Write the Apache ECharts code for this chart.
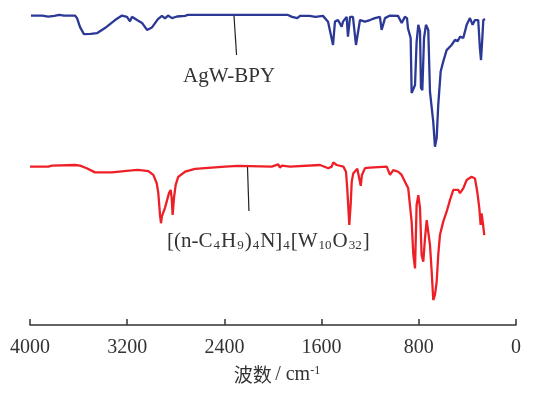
<!DOCTYPE html>
<html>
<head>
<meta charset="utf-8">
<script src="https://cdn.jsdelivr.net/npm/echarts@6/dist/echarts.min.js"></script>
<style>
  html, body { margin: 0; padding: 0; background: #fff; }
  #chart { width: 542px; height: 397px; }
</style>
</head>
<body>
<div id="chart"></div>
<script>
// x ticks (wavenumber, cm-1), axis runs 4000 -> 0
const xTicks = [4000, 3200, 2400, 1600, 800, 0];

// AgW-BPY spectrum (upper trace), wavenumber / relative transmittance
const agwWn = [3992, 3900, 3850, 3800, 3760, 3720, 3630, 3613, 3588, 3556, 3547, 3500, 3449, 3383, 3300, 3243, 3202, 3177, 3161, 3119,
  3078, 3037, 2996, 2947, 2914, 2889, 2864, 2831, 2790, 2724, 2700, 2543, 2530, 2515, 1877, 1844, 1800, 1778, 1700, 1650,
  1589, 1547, 1520, 1506, 1490, 1465, 1435, 1424, 1394, 1383, 1366, 1342, 1317, 1284, 1243, 1202, 1161, 1120, 1106, 1078,
  1037, 971, 941, 914, 897, 889, 867, 859, 848, 831, 818, 804, 790, 782, 771, 757, 741, 722, 708, 681,
  667, 653, 640, 620, 599, 571, 530, 502, 480, 461, 434, 406, 379, 357, 338, 311, 297, 288, 277, 269, 255];
const agwT = [96.7, 96.7, 96.4, 96.6, 96.9, 96.7, 96.7, 95.9, 93.1, 90.9, 91.2, 91.0, 91.2, 92.8, 95.3, 96.7, 96.3, 94.9, 96.3, 95.3,
  94.4, 92.2, 93.0, 95.6, 96.6, 95.8, 96.7, 95.9, 96.4, 96.6, 96.9, 96.9, 96.3, 96.9, 96.9, 96.3, 95.9, 96.6, 96.6, 96.3,
  96.6, 94.8, 90.0, 87.5, 94.8, 95.3, 93.2, 94.8, 96.3, 90.1, 96.3, 96.3, 87.5, 95.3, 94.8, 95.3, 95.9, 96.3, 92.2, 95.9,
  96.7, 96.6, 94.4, 96.3, 95.9, 92.7, 89.7, 72.5, 71.9, 75.0, 88.5, 93.8, 91.7, 74.1, 73.4, 89.7, 93.8, 92.2, 72.9, 63.5,
  55.7, 58.4, 68.8, 79.2, 82.3, 85.9, 87.5, 89.1, 88.7, 90.1, 89.7, 93.8, 95.9, 93.8, 95.3, 95.3, 86.5, 82.8, 89.7, 95.3, 95.6];

// [(n-C4H9)4N]4[W10O32] spectrum (lower trace)
const tbaWn = [4000, 3849, 3819, 3630, 3588, 3533, 3465, 3328, 3317, 3163, 3111, 3026, 2985, 2957, 2944, 2930, 2922, 2914, 2903, 2889,
  2856, 2842, 2834, 2826, 2815, 2801, 2780, 2724, 2642, 2505, 2395, 2286, 2011, 1957, 1943, 1926, 1860, 1613, 1545, 1517,
  1504, 1476, 1421, 1399, 1389, 1372, 1361, 1352, 1339, 1306, 1290, 1278, 1268, 1243, 1202, 1064, 1037, 1010, 969, 941,
  914, 887, 873, 859, 845, 831, 818, 804, 790, 777, 763, 749, 735, 722, 708, 694, 681, 667, 653, 640,
  626, 599, 571, 543, 516, 475, 461, 434, 406, 365, 338, 319, 302, 291, 283, 269, 261];
const tbaT = [49.5, 49.5, 49.8, 50.0, 49.8, 49.0, 47.7, 47.7, 48.1, 48.3, 48.5, 48.1, 46.9, 44.3, 41.2, 34.4, 31.8, 34.0, 33.4, 36.6,
  41.2, 42.2, 39.7, 34.4, 39.7, 43.8, 46.3, 47.9, 48.8, 49.2, 49.5, 49.7, 49.5, 50.2, 49.2, 49.8, 49.5, 50.0, 49.0, 49.5,
  50.8, 50.0, 49.5, 47.9, 42.7, 31.3, 37.5, 44.8, 47.4, 48.8, 45.8, 43.5, 46.9, 49.0, 49.2, 49.5, 46.9, 48.4, 47.9, 46.9,
  44.8, 42.7, 37.5, 32.3, 21.9, 17.7, 37.5, 40.6, 36.5, 21.9, 19.8, 27.1, 32.8, 32.3, 25.0, 16.7, 7.8, 9.4, 13.5, 21.9,
  28.1, 32.3, 35.4, 39.1, 42.2, 42.2, 41.2, 42.7, 45.3, 46.3, 45.8, 41.7, 36.5, 31.3, 34.9, 30.7, 28.1];

const pairs = (xs, ys) => xs.map((x, i) => [x, ys[i]]);
const serif = '"Liberation Serif", "DejaVu Serif", serif';

const chart = echarts.init(document.getElementById('chart'));
chart.setOption({
  animation: false,
  grid: { left: 30, right: 26, top: 5, bottom: 72 },
  xAxis: {
    type: 'value',
    inverse: true,
    min: 0,
    max: 4000,
    interval: 800,
    splitLine: { show: false },
    axisLine: { lineStyle: { color: '#333', width: 1.5 } },
    axisTick: { inside: true, length: 6, lineStyle: { color: '#333', width: 1.5 } },
    axisLabel: {
      margin: 13,
      color: '#333',
      fontSize: 20,
      fontFamily: serif,
      showMinLabel: true,
      showMaxLabel: true,
      formatter: v => xTicks.includes(v) ? String(v) : ''
    },
    name: '{cn|波数} {t|/ cm}{sup|-1}',
    nameLocation: 'middle',
    nameGap: 40,
    nameTextStyle: {
      padding: [0, 0, 0, 8],
      rich: {
        cn: { fontSize: 19, fontFamily: '"Noto Sans CJK SC"', color: '#333' },
        t: { fontSize: 20, fontFamily: serif, color: '#333' },
        sup: { fontSize: 12, fontFamily: serif, color: '#333', verticalAlign: 'top', lineHeight: 14 }
      }
    }
  },
  yAxis: { type: 'value', min: 0, max: 100, show: false },
  series: [
    {
      name: 'AgW-BPY',
      type: 'line',
      data: pairs(agwWn, agwT),
      showSymbol: false,
      lineStyle: { color: '#2b3896', width: 2.3 },
      markLine: {
        silent: true,
        symbol: 'none',
        label: { show: false },
        lineStyle: { color: '#222', width: 1.2, type: 'solid' },
        data: [[{ coord: [2321, 96.6] }, { coord: [2300, 84.4] }]]
      }
    },
    {
      name: 'TBA-W10',
      type: 'line',
      data: pairs(tbaWn, tbaT),
      showSymbol: false,
      lineStyle: { color: '#ee2027', width: 2.3 },
      markLine: {
        silent: true,
        symbol: 'none',
        label: { show: false },
        lineStyle: { color: '#222', width: 1.2, type: 'solid' },
        data: [[{ coord: [2210, 49.4] }, { coord: [2198, 35.6] }]]
      }
    }
  ],
  graphic: [
    {
      type: 'text',
      left: 183,
      top: 66,
      style: { text: 'AgW-BPY', fill: '#333', font: '21px ' + serif }
    },
    {
      type: 'text',
      left: 167,
      top: 231,
      style: {
        text: '{n|[(n-C}{s|4}{n|H}{s|9}{n|)}{s|4}{n|N]}{s|4}{n|[W}{s|10}{n|O}{s|32}{n|]}',
        rich: {
          n: { fontSize: 21, fontFamily: serif, fill: '#333', lineHeight: 24, verticalAlign: 'bottom' },
          s: { fontSize: 13, fontFamily: serif, fill: '#333', lineHeight: 11, verticalAlign: 'bottom', padding: [0, 1, 0, 1] }
        }
      }
    }
  ]
});
</script>
</body>
</html>
